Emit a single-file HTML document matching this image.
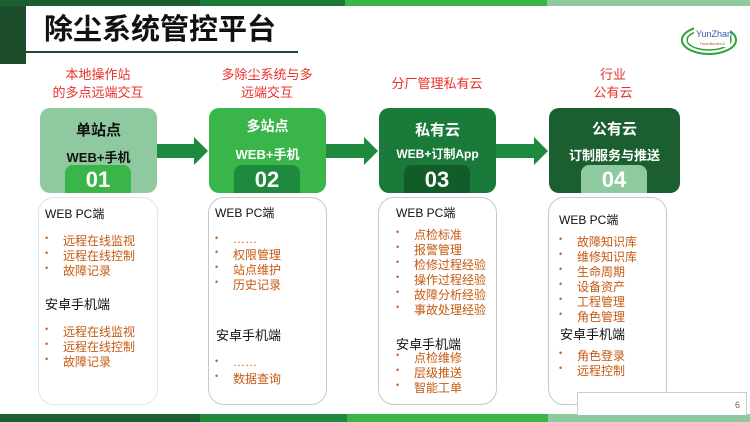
<!DOCTYPE html><html><head><meta charset="utf-8"><style>
*{margin:0;padding:0;box-sizing:border-box}
body{width:750px;height:422px;position:relative;overflow:hidden;background:#fff;font-family:"Liberation Sans","Noto Sans CJK SC",sans-serif}
.a{position:absolute}
.hd{color:#e8302a;font-size:13px;text-align:center;line-height:18px}
.bx{border-radius:10px;color:#fff;text-align:center;font-weight:bold}
.tab{position:absolute;left:25px;width:66px;top:57px;height:28px;border-radius:8px 8px 0 0;font-size:22px;line-height:30px;font-weight:bold}
.cd{border:1.5px solid #c8c8c8;border-radius:16px;background:#fff}
.t{position:absolute;font-size:12px;color:#111;white-space:nowrap}
.i{position:absolute;font-size:12px;color:#c55a11;white-space:nowrap}
.i:before{content:"•";position:absolute;left:-18px;font-size:9px;top:1px}
.ar{position:absolute;width:0;height:0}
</style></head><body>
<div class="a" style="left:0;top:0;width:200px;height:6px;background:#1b5e2f"></div>
<div class="a" style="left:200px;top:0;width:145px;height:6px;background:#1a7a3a"></div>
<div class="a" style="left:345px;top:0;width:202px;height:6px;background:#3ab54a"></div>
<div class="a" style="left:547px;top:0;width:203px;height:6px;background:#8fc9a0"></div>
<div class="a" style="left:0;top:414px;width:200px;height:8px;background:#1b5e2f"></div>
<div class="a" style="left:200px;top:414px;width:147px;height:8px;background:#1e8a3e"></div>
<div class="a" style="left:347px;top:414px;width:201px;height:8px;background:#3ab54a"></div>
<div class="a" style="left:548px;top:414px;width:202px;height:8px;background:#8fc9a0"></div>
<div class="a" style="left:0;top:6px;width:26px;height:58px;background:#1b4d2a"></div>
<div class="a" style="left:26px;top:51px;width:272px;height:2px;background:#1b4d2a"></div>
<div class="a" style="left:44px;top:12px;font-size:29px;font-weight:bold;color:#111;line-height:36px">除尘系统管控平台</div>
<svg class="a" style="left:680px;top:22px" width="58" height="34"><ellipse cx="29" cy="18" rx="27" ry="14" fill="none" stroke="#2aa33a" stroke-width="2"/><ellipse cx="29" cy="18" rx="22" ry="10" fill="none" stroke="#2aa33a" stroke-width="1.5"/><rect x="14" y="3" width="36" height="22" fill="#fff"/><text x="16" y="15" font-size="9" fill="#3355aa" font-family="Liberation Sans">YunZhan</text><text x="20" y="23" font-size="4" fill="#c55a11" font-family="Liberation Sans">HuanBaoKeJi</text></svg>

<div class="a hd" style="left:30px;top:66px;width:136px">本地操作站<br>的多点远端交互</div>
<div class="a hd" style="left:199px;top:66px;width:136px">多除尘系统与多<br>远端交互</div>
<div class="a hd" style="left:369px;top:75px;width:136px">分厂管理私有云</div>
<div class="a hd" style="left:545px;top:66px;width:136px">行业<br>公有云</div>

<div class="a bx" style="left:40px;top:108px;width:117px;height:85px;background:#8fc9a0;color:#111"><div style="font-size:15px;margin-top:11px">单站点</div><div style="font-size:13px;margin-top:7px">WEB+手机</div><div class="tab" style="background:#3ab54a;color:#fff">01</div></div>
<div class="a bx" style="left:209px;top:108px;width:117px;height:85px;background:#3ab54a"><div style="font-size:14px;margin-top:8px">多站点</div><div style="font-size:13px;margin-top:8px">WEB+手机</div><div class="tab" style="background:#1e8a3e">02</div></div>
<div class="a bx" style="left:379px;top:108px;width:117px;height:85px;background:#1a7a3a"><div style="font-size:15px;margin-top:11px">私有云</div><div style="font-size:12px;margin-top:5px">WEB+订制App</div><div class="tab" style="background:#125c2a">03</div></div>
<div class="a bx" style="left:549px;top:108px;width:131px;height:85px;background:#1b5e2f"><div style="font-size:15px;margin-top:10px">公有云</div><div style="font-size:13px;margin-top:6px">订制服务与推送</div><div class="tab" style="left:32px;background:#8fc9a0">04</div></div>

<svg class="a" style="left:0;top:0" width="750" height="422">
<g fill="#1e8a3e"><polygon points="157,144 194,144 194,137 208,151 194,165 194,158 157,158"/>
<polygon points="326,144 364,144 364,137 378,151 364,165 364,158 326,158"/>
<polygon points="496,144 534,144 534,137 548,151 534,165 534,158 496,158"/></g></svg>

<div class="a cd" style="left:38px;top:197px;width:120px;height:208px;border-color:#e4e4e4"></div>
<div class="a cd" style="left:208px;top:197px;width:119px;height:208px"></div>
<div class="a cd" style="left:378px;top:197px;width:119px;height:208px"></div>
<div class="a cd" style="left:548px;top:197px;width:119px;height:208px"></div>
<div class="a" style="left:577px;top:392px;width:170px;height:23px;border:1px solid #ccc;border-bottom:none;background:#fff;font-size:9px;color:#666;text-align:right;padding:7px 6px 0 0">6</div>

<div class="t" style="left:45px;top:205px">WEB PC端</div>
<div class="i" style="left:63px;top:232px">远程在线监视</div><div class="i" style="left:63px;top:247px">远程在线控制</div><div class="i" style="left:63px;top:262px">故障记录</div>
<div class="t" style="left:45px;top:294px;font-size:13px">安卓手机端</div>
<div class="i" style="left:63px;top:323px">远程在线监视</div><div class="i" style="left:63px;top:338px">远程在线控制</div><div class="i" style="left:63px;top:353px">故障记录</div>

<div class="t" style="left:215px;top:204px">WEB PC端</div>
<div class="i" style="left:233px;top:232px">……</div><div class="i" style="left:233px;top:246px">权限管理</div><div class="i" style="left:233px;top:261px">站点维护</div><div class="i" style="left:233px;top:276px">历史记录</div>
<div class="t" style="left:216px;top:325px;font-size:13px">安卓手机端</div>
<div class="i" style="left:233px;top:355px">……</div><div class="i" style="left:233px;top:370px">数据查询</div>

<div class="t" style="left:396px;top:204px">WEB PC端</div>
<div class="i" style="left:414px;top:226px">点检标准</div><div class="i" style="left:414px;top:241px">报警管理</div><div class="i" style="left:414px;top:256px">检修过程经验</div><div class="i" style="left:414px;top:271px">操作过程经验</div><div class="i" style="left:414px;top:286px">故障分析经验</div><div class="i" style="left:414px;top:301px">事故处理经验</div>
<div class="t" style="left:396px;top:334px;font-size:13px">安卓手机端</div>
<div class="i" style="left:414px;top:349px">点检维修</div><div class="i" style="left:414px;top:364px">层级推送</div><div class="i" style="left:414px;top:379px">智能工单</div>

<div class="t" style="left:559px;top:211px">WEB PC端</div>
<div class="i" style="left:577px;top:233px">故障知识库</div><div class="i" style="left:577px;top:248px">维修知识库</div><div class="i" style="left:577px;top:263px">生命周期</div><div class="i" style="left:577px;top:278px">设备资产</div><div class="i" style="left:577px;top:293px">工程管理</div><div class="i" style="left:577px;top:308px">角色管理</div>
<div class="t" style="left:560px;top:324px;font-size:13px">安卓手机端</div>
<div class="i" style="left:577px;top:347px">角色登录</div><div class="i" style="left:577px;top:362px">远程控制</div>
</body></html>
